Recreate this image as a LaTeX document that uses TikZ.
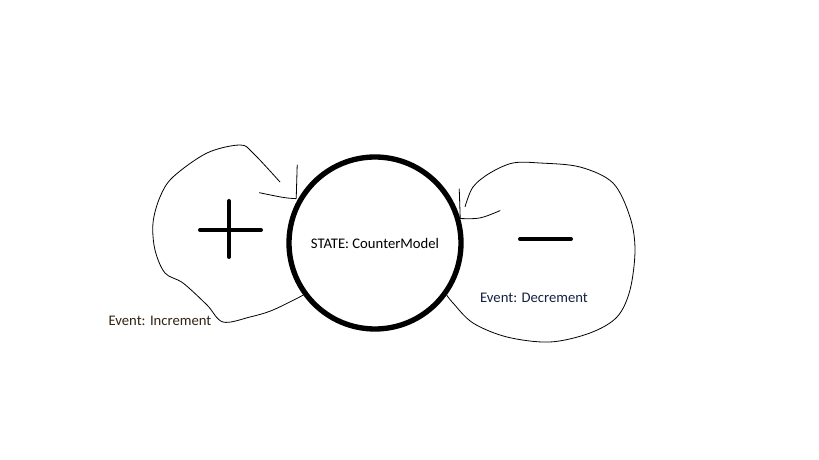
\documentclass[tikz,border=0pt]{standalone}
\usepackage{fontspec}
\setmainfont{Carlito}
\usetikzlibrary{automata, positioning}
\definecolor{incText}{RGB}{50,34,18}
\definecolor{decText}{RGB}{18,34,64}
\tikzset{
	x=0.75pt, y=-0.75pt, % one unit is one pixel of the sketch
	every node/.style={font=\fontsize{11}{13}\selectfont}, % label size
	every state/.style={line width=4pt, minimum size=129pt, inner sep=0pt}, % the big state circle
	sketch/.style={line width=0.6pt, line join=round}, % thin hand drawn loops
	sign/.style={line width=3pt, line cap=round}, % plus and minus strokes
}

\begin{document}
\begin{tikzpicture}
	\useasboundingbox (0,0) rectangle (819,460);
			\node[state] (s) at (375,243) {STATE: CounterModel};
			\node[text=incText] (inc) at (160,321) {Event: Increment};
			\node[text=decText] (dec) at (534,298) {Event: Decrement};
	% plus and minus
	\draw[sign] (200,230) -- (261,230) (229,201) -- (229,257);
	\draw[sign] (520,239) -- (571,239);
	% increment loop
	\draw[sketch] plot[smooth, tension=0.55] coordinates {(s.216) (273,310) (250,317) (223,322)
		(207,305) (183,283) (165,273) (155,250) (153,223) (160,197) (173,177) (207,153)
		(240,145) (253,153) (280,182)};
	\draw[sketch] (s.150) ++(-2,0) -- ++(1,-34) (s.150) ++(-2,0) .. controls (285,198) .. ++(-37,-6);
	% decrement loop
	\draw[sketch] plot[smooth, tension=0.55] coordinates {(s.324) (453,303) (473,323) (507,337)
		(550,342) (590,333) (617,317) (630,290) (635,250) (630,217) (613,183) (580,167)
		(540,163) (513,163) (490,173) (473,187) (465,207)};
	\draw[sketch] (s.16) -- ++(-1,-30) (s.16) .. controls (480,219) .. ++(40,-8);
\end{tikzpicture}
\end{document}
